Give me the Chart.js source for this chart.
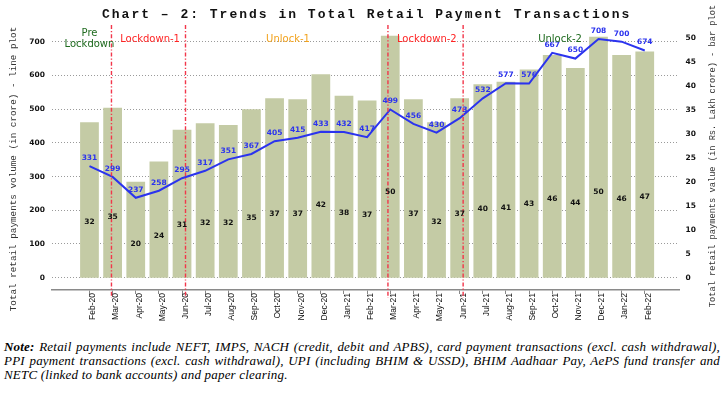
<!DOCTYPE html>
<html><head><meta charset="utf-8">
<script src="https://cdn.jsdelivr.net/npm/chart.js@4.4.1/dist/chart.umd.min.js"></script>
<style>
html,body{margin:0;padding:0;background:#fff;}
#wrap{position:relative;width:724px;height:394px;overflow:hidden;background:#fff;}
canvas{display:block;}
#note{position:absolute;left:4px;top:340px;width:716px;font-family:"Liberation Serif",serif;font-style:italic;font-size:13px;line-height:13.8px;color:#000;letter-spacing:0.2px;}
#note div{text-align:justify;text-align-last:justify;}
#note div.last{text-align-last:left;}
</style></head>
<body><div id="wrap"><canvas id="c" width="724" height="330"></canvas>
<div id="note">
<div><b>Note:</b> Retail payments include NEFT, IMPS, NACH (credit, debit and APBS), card payment transactions (excl. cash withdrawal),</div>
<div>PPI payment transactions (excl. cash withdrawal), UPI (including BHIM &amp; USSD), BHIM Aadhaar Pay, AePS fund transfer and</div>
<div class="last">NETC (linked to bank accounts) and paper clearing.</div>
</div></div>
<script>
const categories = ['Feb-20','Mar-20','Apr-20','May-20','Jun-20','Jul-20','Aug-20','Sep-20','Oct-20','Nov-20','Dec-20','Jan-21',
  'Feb-21','Mar-21','Apr-21','May-21','Jun-21','Jul-21','Aug-21','Sep-21','Oct-21','Nov-21','Dec-21','Jan-22','Feb-22'];
// line plot: volume (in crore)
const volumeCrore = [331,299,237,258,295,317,351,367,405,415,433,432,417,499,456,430,473,532,577,576,667,650,708,700,674];
// bar plot: value (in Rs. Lakh crore)
const valueLakhCrore = [32.4,35.4,20.0,24.2,30.8,32.2,31.8,35.1,37.4,37.2,42.4,37.9,36.9,50.4,37.2,32.4,37.4,40.3,40.8,43.4,46.4,43.7,50.2,46.4,47.1];
const leftTicks = [0,100,200,300,400,500,600,700];
const rightTicks = [0,5,10,15,20,25,30,35,40,45,50];
const phaseLines = [0.95, 4.15, 12.9, 16.15];
const phaseLabels = [
  {text:['Pre','Lockdown'], x:0.0, color:'#1f6b1f'},
  {text:['Lockdown-1'], x:2.62, color:'#ff2424'},
  {text:['Unlock-1'], x:8.58, color:'#f2a21c'},
  {text:['Lockdown-2'], x:14.58, color:'#ff2424'},
  {text:['Unlock-2'], x:20.34, color:'#1f6b1f'}
];
const titleText = 'Chart \u2013 2: Trends in Total Retail Payment Transactions';
const leftTitle = 'Total retail payments volume (in crore) - line plot';
const rightTitle = 'Total retail payments value (in Rs. Lakh crore) - bar plot';

const overlay = {
  id: 'overlay',
  afterDatasetsDraw(chart) {
    const {ctx, chartArea, scales} = chart;
    const x = scales.x, y2 = scales.y2;
    ctx.save();
    ctx.strokeStyle = '#f2364a'; ctx.lineWidth = 1.4; ctx.setLineDash([4,2,1.2,2]);
    phaseLines.forEach(v => {
      const px = x.getPixelForValue(v);
      ctx.beginPath(); ctx.moveTo(px, chartArea.top - 3); ctx.lineTo(px, chartArea.bottom + 8); ctx.stroke();
    });
    ctx.setLineDash([]);
    ctx.textAlign = 'center'; ctx.textBaseline = 'middle';
    ctx.font = 'bold 7.5px "DejaVu Sans"';
    ctx.fillStyle = '#111';
    chart.getDatasetMeta(0).data.forEach((el, i) => {
      const v = valueLakhCrore[i];
      ctx.fillText(String(Math.round(v)), el.x, y2.getPixelForValue(v * 0.355));
    });
    ctx.fillStyle = '#2b33ee';
    chart.getDatasetMeta(1).data.forEach((el, i) => {
      ctx.fillText(String(volumeCrore[i]), el.x, el.y - 8);
    });
    ctx.restore();
  },
  afterDraw(chart) {
    const {ctx, scales} = chart;
    const x = scales.x, y = scales.y;
    ctx.save();
    ctx.font = 'bold 13px "Liberation Mono"';
    ctx.fillStyle = '#111';
    ctx.textBaseline = 'middle'; ctx.textAlign = 'left';
    try { ctx.letterSpacing = '2px'; } catch(e) {}
    ctx.fillText(titleText, 102, 15);
    try { ctx.letterSpacing = '0px'; } catch(e) {}
    ctx.font = '10px "DejaVu Sans"'; ctx.textAlign = 'center';
    phaseLabels.forEach(p => {
      ctx.fillStyle = p.color;
      const cx = x.getPixelForValue(p.x);
      const cy = y.getPixelForValue(708);
      const n = p.text.length;
      p.text.forEach((t, k) => ctx.fillText(t, cx, cy + (k - (n - 1) / 2) * 11.5));
    });
    ctx.font = '9.3px "Liberation Mono"'; ctx.fillStyle = '#333';
    ctx.save(); ctx.translate(14, 169); ctx.rotate(-Math.PI / 2); ctx.fillText(leftTitle, 0, 0); ctx.restore();
    ctx.font = '8.7px "Liberation Mono"';
    ctx.save(); ctx.translate(713, 156); ctx.rotate(-Math.PI / 2); ctx.fillText(rightTitle, 0, 0); ctx.restore();
    ctx.restore();
  }
};

const tickFont = {family: 'DejaVu Sans', weight: 'bold', size: 7.5};

new Chart(document.getElementById('c'), {
  type: 'bar',
  data: {
    labels: categories.map((_, i) => i),
    datasets: [
      {type: 'bar', data: valueLakhCrore, yAxisID: 'y2', backgroundColor: '#c4cba5', borderWidth: 0,
       categoryPercentage: 0.9, barPercentage: 0.9, order: 2},
      {type: 'line', data: volumeCrore, yAxisID: 'y', borderColor: '#2b33ee', borderWidth: 2,
       pointRadius: 0, tension: 0, fill: false, order: 1}
    ]
  },
  options: {
    responsive: false, animation: false,
    layout: {padding: {top: 28, left: 0, right: 0, bottom: 0}},
    plugins: {legend: {display: false}, tooltip: {enabled: false}, title: {display: false}},
    scales: {
      x: {
        type: 'linear', min: -1.62, max: 25.48, offset: false,
        afterBuildTicks: a => { a.ticks = categories.map((_, i) => ({value: i})); },
        afterFit: s => { s.height = 40; },
        ticks: {autoSkip: false, minRotation: 90, maxRotation: 90, padding: -1, labelOffset: 3.5,
          color: '#111', font: {family: 'Liberation Sans', size: 8.5},
          callback: v => categories[v]},
        grid: {drawOnChartArea: false, drawTicks: true, tickLength: 4, color: '#888', offset: false},
        border: {display: true, color: '#8a8a8a', width: 1.5}
      },
      y: {
        position: 'left', min: -36.5, max: 740.6,
        afterBuildTicks: a => { a.ticks = leftTicks.map(v => ({value: v})); },
        afterFit: s => { s.width = 52; },
        ticks: {padding: 7, color: '#111', font: tickFont},
        grid: {drawTicks: false, color: '#9a9a9a', lineWidth: 1},
        border: {display: false, dash: [1, 2]}
      },
      y2: {
        position: 'right', min: -2.56, max: 52.02,
        afterBuildTicks: a => { a.ticks = rightTicks.map(v => ({value: v})); },
        afterFit: s => { s.width = 45; },
        ticks: {padding: 6.5, color: '#111', font: tickFont},
        grid: {display: false, drawTicks: false},
        border: {display: false}
      }
    }
  },
  plugins: [overlay]
});
</script>
</body></html>
